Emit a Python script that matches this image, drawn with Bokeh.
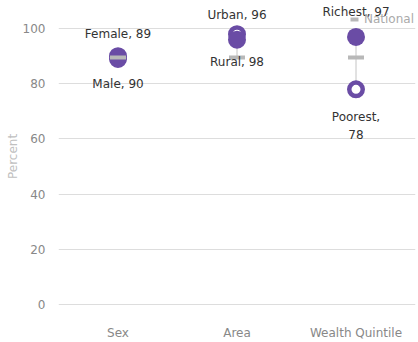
from bokeh.plotting import figure
from bokeh.models import ColumnDataSource, FactorRange, Range1d, FixedTicker, Legend, LegendItem
from bokeh.core.properties import value
from bokeh.embed import file_html
from bokeh.resources import INLINE

# Breakdown groups and the two compared subgroups in each
categories = ["Sex", "Area", "Wealth Quintile"]
filled_names = ["Female", "Urban", "Richest"]
filled_values = [89, 96, 97]
hollow_names = ["Male", "Rural", "Poorest"]
hollow_values = [90, 98, 78]
hollow_sep = [" ", " ", "\n"]
national_values = [89.5, 89.5, 89.5]
y_ticks = [0, 20, 40, 60, 80, 100]

PURPLE = "#6a4ca5"
GREY_MARK = "#b8b8b8"
FONT = "DejaVu Sans"

filled_src = ColumnDataSource(dict(
    x=categories, y=filled_values,
    label=[f"{n}, {v}" for n, v in zip(filled_names, filled_values)],
))
hollow_src = ColumnDataSource(dict(
    x=categories, y=hollow_values,
    label=[f"{n},{s}{v}" for n, s, v in zip(hollow_names, hollow_sep, hollow_values)],
))
national_src = ColumnDataSource(dict(x=categories, y=national_values))
range_src = ColumnDataSource(dict(
    x=categories,
    lo=[min(a, b, c) for a, b, c in zip(filled_values, hollow_values, national_values)],
    hi=[max(a, b, c) for a, b, c in zip(filled_values, hollow_values, national_values)],
))

p = figure(
    x_range=FactorRange(*categories, range_padding=0),
    y_range=Range1d(-1.8, 109.1),
    width=418, height=342,
    output_backend="svg", toolbar_location=None,
    min_border_left=58, min_border_right=3, min_border_top=3, min_border_bottom=33,
)
p.outline_line_color = None
p.background_fill_color = "white"
p.border_fill_color = "white"

# grid and axes
p.xgrid.grid_line_color = None
p.ygrid.grid_line_color = "#dddddd"
p.ygrid.grid_line_width = 1
p.yaxis.ticker = FixedTicker(ticks=y_ticks)
for ax in (p.xaxis[0], p.yaxis[0]):
    ax.axis_line_color = None
    ax.major_tick_line_color = None
    ax.minor_tick_line_color = None
    ax.major_tick_out = 0
    ax.major_tick_in = 0
    ax.major_label_text_font = FONT
    ax.major_label_text_font_size = "12px"
    ax.major_label_text_color = "#888888"
p.yaxis.major_label_standoff = 13
p.xaxis.major_label_standoff = 16
p.yaxis.axis_label = "Percent"
p.yaxis.axis_label_text_font = FONT
p.yaxis.axis_label_text_font_size = "12px"
p.yaxis.axis_label_text_font_style = "normal"
p.yaxis.axis_label_text_color = "#c0c0c0"
p.yaxis.axis_label_standoff = 0

# connector spanning each group's values
p.segment(x0="x", y0="lo", x1="x", y1="hi", source=range_src,
          line_color="#c4c4c4", line_width=1)

# hollow subgroup markers
p.scatter(x="x", y="y", source=hollow_src, marker="circle", size=13.5,
          fill_color="white", line_color=PURPLE, line_width=4.5)
# filled subgroup markers
p.scatter(x="x", y="y", source=filled_src, marker="circle", size=18,
          fill_color=PURPLE, line_color=None)
# national reference
national = p.scatter(x="x", y="y", source=national_src, marker="dash", size=16,
                     line_color=GREY_MARK, line_width=4)

# value labels
p.text(x="x", y="y", text="label", source=filled_src,
       text_align="center", text_baseline="bottom", y_offset=-18,
       text_font=value(FONT), text_font_size="12px", text_color="#333333")
p.text(x="x", y="y", text="label", source=hollow_src,
       text_align="center", text_baseline="top", y_offset=21,
       text_font=value(FONT), text_font_size="12px", text_color="#333333",
       text_line_height=1.3)

legend = Legend(
    items=[LegendItem(label="National", renderers=[national])],
    location=(286, 280),
    orientation="horizontal",
    glyph_width=20, glyph_height=20,
    label_standoff=0, padding=0, margin=0, spacing=0,
    label_text_font=FONT, label_text_font_size="12px",
    label_text_color="#aaaaaa",
    background_fill_alpha=0, border_line_alpha=0,
)
p.add_layout(legend)

open("out.html", "w").write(file_html(p, INLINE))
